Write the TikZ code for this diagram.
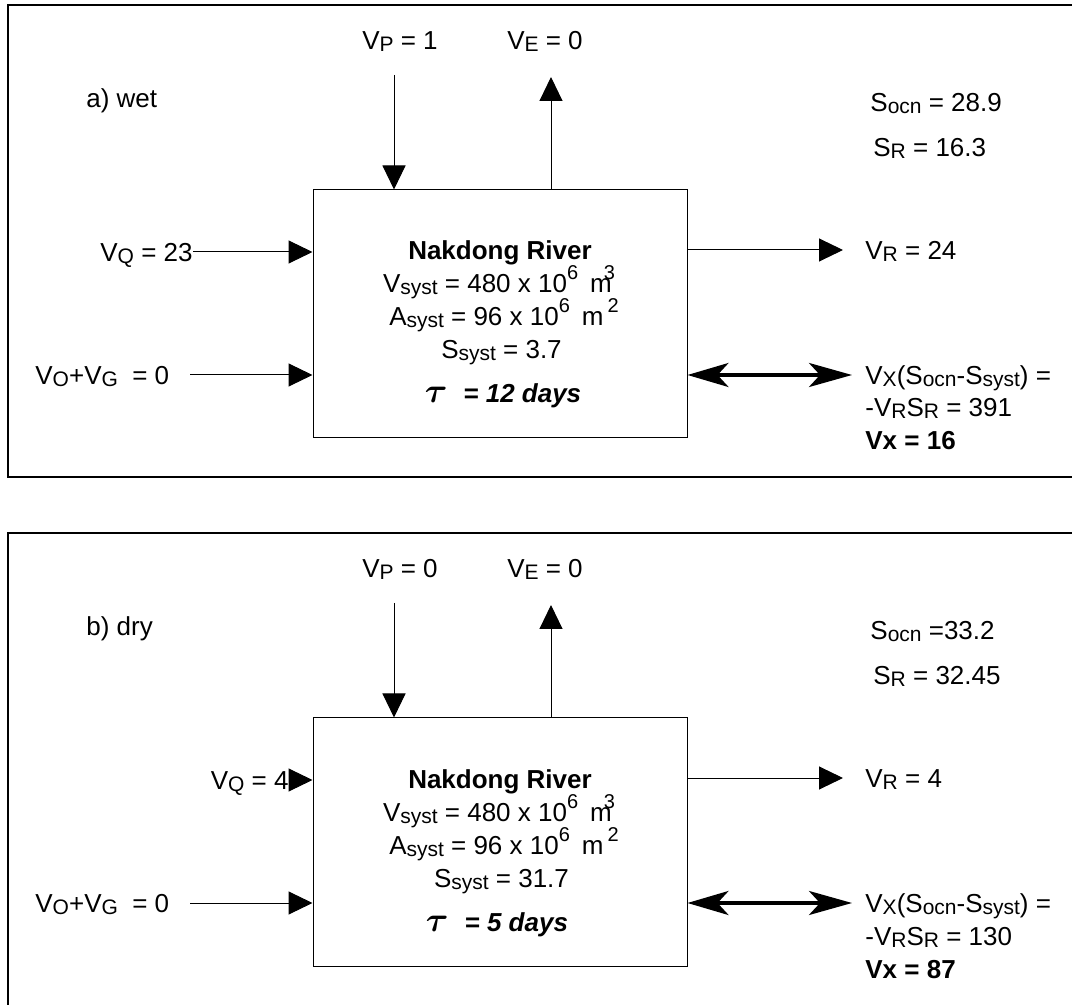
\documentclass[tikz,border=0pt]{standalone}
\usepackage{fontspec}
\setmainfont{Liberation Sans}
\usetikzlibrary{positioning}
\usetikzlibrary{arrows.meta}
\usetikzlibrary{calc}

\newcommand{\lowtxt}[1]{\raisebox{-1pt}{\fontsize{10.5}{12}\selectfont #1}}
\newcommand{\hightxt}[1]{\raisebox{6.5pt}{\fontsize{10}{12}\selectfont #1}}
\newcommand{\tautxt}{{\fontsize{16}{16}\selectfont\boldmath$\tau$}}

\begin{document}
\begin{tikzpicture}[x=0.5pt, y=-0.5pt,
    every node/.style={font=\fontsize{13}{15}\selectfont},
    lbl/.style={inner sep=0pt, text height=9.5pt, text depth=0pt},
    flow/.style={line width=0.5pt, -{Triangle[length=12pt,width=11.5pt]}},
    xflow/.style={line width=1.75pt, {Stealth[length=20.5pt,width=12pt,inset=5.5pt]}-{Stealth[length=21.5pt,width=12pt,inset=5.5pt]}},
    frame/.style={line width=1pt},
    sysbox/.style={draw, line width=0.5pt, minimum width=187pt, minimum height=124pt, inner sep=0pt}]

        \clip (0,0) rectangle (1072,1005);

        % a) wet season
        \draw[frame] (8,5) rectangle (1085,477);
        \node[sysbox] (box) at (500,314) {};

        \node[lbl] (vp) at (400,40) {V\lowtxt{P} = 1};
        \node[lbl] (ve) at (545,40) {V\lowtxt{E} = 0};
        \coordinate (pin) at (394,75);
        \coordinate (eout) at (551,77);
        \draw[flow] (pin) -- (pin |- box.north);
        \draw[flow] (eout |- box.north) -- (eout);

        \node[lbl, anchor=west] (case) at (86,98) {a) wet};
        \node[lbl, anchor=west] (socn) at (870,102) {S\lowtxt{ocn} = 28.9};
        \node[lbl, anchor=west] (sr) at (873,147) {S\lowtxt{R} = 16.3};

        \node[lbl] (name) at (500,250.5) {\textbf{Nakdong River}};
        \node[lbl] (vsys) at (499,283.5) {V\lowtxt{syst} = 480 x 10\hightxt{6}\hspace{6pt}m\kern-4pt\hightxt{3}};
        \node[lbl] (asys) at (504,316.5) {A\lowtxt{syst} = 96 x 10\hightxt{6}\hspace{6pt}m\hspace{2pt}\hightxt{2}};
        \node[lbl] (ssys) at (501.5,349.5) {S\lowtxt{syst} = 3.7};
        \node[lbl] (tau) at (503,393.5) {\bfseries\itshape\tautxt\hspace{8pt}= 12 days};

        \node[lbl, anchor=east] (vq) at (193,252) {V\lowtxt{Q} = 23};
        \draw[flow] (vq.east) -- (vq.east -| box.west);
        \node[lbl, anchor=west] (vog) at (35,375) {V\lowtxt{O}+V\lowtxt{G}\hspace{3.6pt} = 0};
        \coordinate (ogin) at (190,375);
        \draw[flow] (ogin) -- (ogin -| box.west);

        \node[lbl, anchor=west] (vr) at (865,250) {V\lowtxt{R} = 24};
        \draw[flow] (box.east |- vr) -- ([xshift=-11pt]vr.west);
        \node[lbl, anchor=west] (vx) at (865,375) {V\lowtxt{X}(S\lowtxt{ocn}-S\lowtxt{syst}) =};
        \draw[xflow] (box.east |- vx) -- ([xshift=-6.5pt]vx.west);
        \node[lbl, anchor=west] (vrsr) at ([yshift=-16.25pt]vx.west) {-V\lowtxt{R}S\lowtxt{R} = 391};
        \node[lbl, anchor=west] (vxb) at ([yshift=-16.5pt]vrsr.west) {\textbf{Vx = 16}};

        \begin{scope}[shift={(0,528)}]
        % b) dry season
        \draw[frame] (8,5) rectangle (1085,600);
        \node[sysbox] (box) at (500,314) {};

        \node[lbl] (vp) at (400,40) {V\lowtxt{P} = 0};
        \node[lbl] (ve) at (545,40) {V\lowtxt{E} = 0};
        \coordinate (pin) at (394,75);
        \coordinate (eout) at (551,77);
        \draw[flow] (pin) -- (pin |- box.north);
        \draw[flow] (eout |- box.north) -- (eout);

        \node[lbl, anchor=west] (case) at (86,98) {b) dry};
        \node[lbl, anchor=west] (socn) at (870,102) {S\lowtxt{ocn} =33.2};
        \node[lbl, anchor=west] (sr) at (873,147) {S\lowtxt{R} = 32.45};

        \node[lbl] (name) at (500,250.5) {\textbf{Nakdong River}};
        \node[lbl] (vsys) at (499,283.5) {V\lowtxt{syst} = 480 x 10\hightxt{6}\hspace{6pt}m\kern-4pt\hightxt{3}};
        \node[lbl] (asys) at (504,316.5) {A\lowtxt{syst} = 96 x 10\hightxt{6}\hspace{6pt}m\hspace{2pt}\hightxt{2}};
        \node[lbl] (ssys) at (501.5,349.5) {S\lowtxt{syst} = 31.7};
        \node[lbl] (tau) at (497,393.5) {\bfseries\itshape\tautxt\hspace{8pt}= 5 days};

        \node[lbl, anchor=east] (vq) at (289,252) {V\lowtxt{Q} = 4};
        \draw[flow] (vq.east) -- (vq.east -| box.west);
        \node[lbl, anchor=west] (vog) at (35,375) {V\lowtxt{O}+V\lowtxt{G}\hspace{3.6pt} = 0};
        \coordinate (ogin) at (190,375);
        \draw[flow] (ogin) -- (ogin -| box.west);

        \node[lbl, anchor=west] (vr) at (865,250) {V\lowtxt{R} = 4};
        \draw[flow] (box.east |- vr) -- ([xshift=-11pt]vr.west);
        \node[lbl, anchor=west] (vx) at (865,375) {V\lowtxt{X}(S\lowtxt{ocn}-S\lowtxt{syst}) =};
        \draw[xflow] (box.east |- vx) -- ([xshift=-6.5pt]vx.west);
        \node[lbl, anchor=west] (vrsr) at ([yshift=-16.25pt]vx.west) {-V\lowtxt{R}S\lowtxt{R} = 130};
        \node[lbl, anchor=west] (vxb) at ([yshift=-16.5pt]vrsr.west) {\textbf{Vx = 87}};
        \end{scope}

\end{tikzpicture}
\end{document}
